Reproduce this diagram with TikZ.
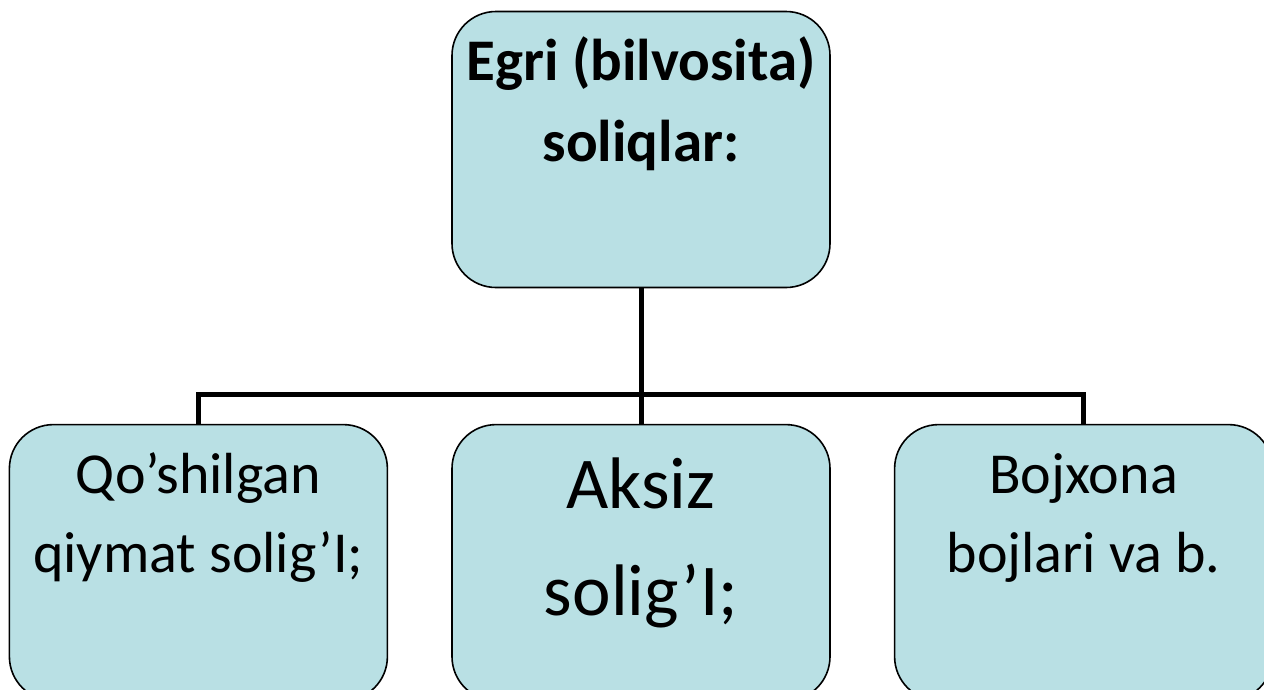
\documentclass[tikz,border=0pt]{standalone}
\usepackage{fontspec}
\setmainfont{Carlito}
\usetikzlibrary{
  positioning,  % Function "of" (e.g. [below=of x])
}
\definecolor{boxfill}{RGB}{185,224,228}
\def\myboxw{378pt}
\def\myboxh{276pt}
\def\myhdist{63pt}
\tikzset{
  x=1pt,
  y=-1pt,
  my box/.style={
    draw,
    line width=1.6pt,
    fill=boxfill,
    rounded corners=44pt,
    minimum width=\myboxw,
    minimum height=\myboxh,
    inner sep=0pt,
    rectangle
  },
  my text/.style={
    align=center,
    inner sep=0pt,
    anchor=base   % base of the last line
  },
  my link/.style={
    line width=5pt,
    line join=miter
  }
}
\begin{document}
\begin{tikzpicture}
\useasboundingbox (0,0) rectangle (1264,689);
\clip (0,0) rectangle (1264,689);
\node[my box] (egri)                             at (641,149.5) {};
\node[my box] (aksiz)   [below=135.5pt of egri]              {};
\node[my box] (qqs)     [left=\myhdist of aksiz]             {};
\node[my box] (bojxona) [right=\myhdist of aksiz]            {};
\coordinate[below=106.5pt of egri.south] (fork);
% texts
\node[my text,below=151pt of egri.north,anchor=base,
      font=\fontsize{59}{81}\selectfont\bfseries] (egri text)
  {Egri (bilvosita)\\soliqlar:};
\node[my text,below=149pt of qqs.north,anchor=base,
      font=\fontsize{58}{79}\selectfont] (qqs text)
  {Qo’shilgan\\qiymat solig’I;};
\node[my text,below=192pt of aksiz.north,anchor=base,
      font=\fontsize{73}{107}\selectfont] (aksiz text)
  {Aksiz\\solig’I;};
\node[my text,below=149pt of bojxona.north,anchor=base,
      font=\fontsize{58}{79}\selectfont] (bojxona text)
  {Bojxona\\bojlari va b.};
% links
\draw[my link] (egri.south) -- (fork);
\draw[my link] (qqs.north) |- (fork) -| (bojxona.north);
\draw[my link] (fork) -- (aksiz.north);
\end{tikzpicture}
\end{document}
